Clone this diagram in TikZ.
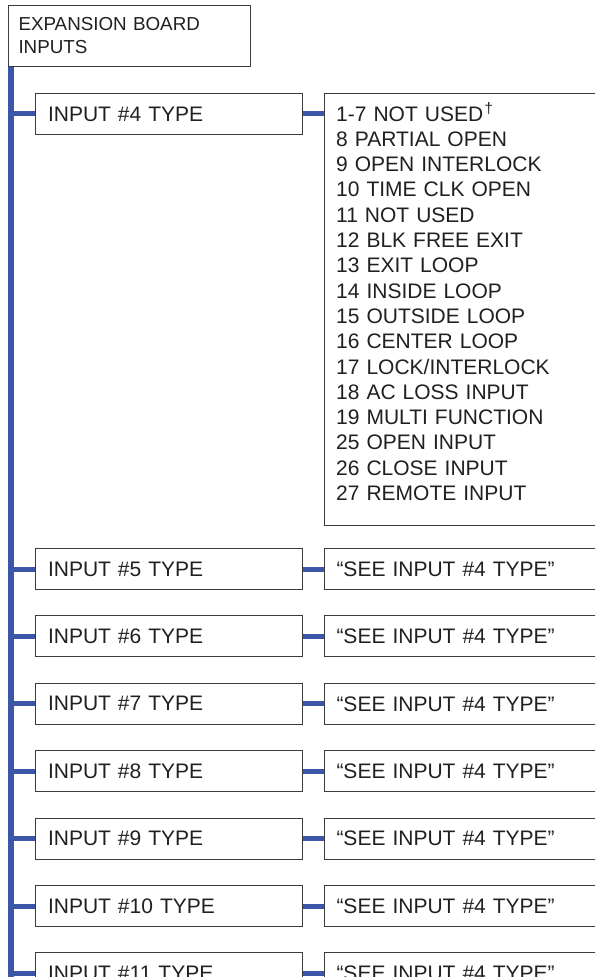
\documentclass[tikz,border=0pt]{standalone}
\usepackage{fontspec}
\setmainfont{Liberation Sans}
\usetikzlibrary{backgrounds}
\definecolor{busblue}{RGB}{59,86,166}
\definecolor{boxgray}{RGB}{60,60,60}
\definecolor{inkgray}{RGB}{35,31,32}
\begin{document}
\begin{tikzpicture}[x=1pt,y=-1pt,
  box/.style={draw=boxgray, line width=1pt, fill=white, inner ysep=0pt, anchor=north west, text=inkgray, align=left},
  inbox/.style={box, minimum width=267pt, minimum height=41pt, text width=242pt, inner xsep=12.5pt, font=\fontsize{21}{25}\selectfont},
  seebox/.style={box, minimum width=290pt, minimum height=41pt, text width=266pt, inner xsep=12pt, font=\fontsize{21}{25}\selectfont},
  listbox/.style={box, minimum width=290pt, minimum height=432pt, inner sep=0pt},
  listtext/.style={anchor=base west, inner sep=0pt, text=inkgray, align=left, text width=260pt, font=\fontsize{21}{25.3}\selectfont},
  topbox/.style={box, minimum width=242pt, minimum height=61pt, text width=222pt, inner xsep=10pt, font=\fontsize{18.8}{23}\selectfont},
  bus/.style={draw=busblue, line width=5.5pt},
  branch/.style={draw=busblue, line width=5pt}]
\useasboundingbox (0,0) rectangle (595,977);
\clip (0,0) rectangle (595,977);

\node[topbox] (top) at (8,5) {EXPANSION BOARD\\INPUTS};

\node[inbox] (in4) at (35,93) {INPUT \#4 TYPE};
\node[listbox] (r4) at (324,93) {};
\node[listtext] (r4text) at ([xshift=12pt,yshift=-28pt]r4.north west)
 {1-7 NOT USED\hspace{1.5pt}\raisebox{8pt}{\fontsize{15}{15}\selectfont †}\\
  8 PARTIAL OPEN\\
  9 OPEN INTERLOCK\\
  10 TIME CLK OPEN\\
  11 NOT USED\\
  12 BLK FREE EXIT\\
  13 EXIT LOOP\\
  14 INSIDE LOOP\\
  15 OUTSIDE LOOP\\
  16 CENTER LOOP\\
  17 LOCK/INTERLOCK\\
  18 AC LOSS INPUT\\
  19 MULTI FUNCTION\\
  25 OPEN INPUT\\
  26 CLOSE INPUT\\
  27 REMOTE INPUT};

\node[inbox] (in5) at (35,548) {INPUT \#5 TYPE};
\node[seebox] (r5) at (324,548) {“SEE INPUT \#4 TYPE”};
\node[inbox] (in6) at (35,615.4) {INPUT \#6 TYPE};
\node[seebox] (r6) at (324,615.4) {“SEE INPUT \#4 TYPE”};
\node[inbox] (in7) at (35,682.8) {INPUT \#7 TYPE};
\node[seebox] (r7) at (324,682.8) {“SEE INPUT \#4 TYPE”};
\node[inbox] (in8) at (35,750.2) {INPUT \#8 TYPE};
\node[seebox] (r8) at (324,750.2) {“SEE INPUT \#4 TYPE”};
\node[inbox] (in9) at (35,817.6) {INPUT \#9 TYPE};
\node[seebox] (r9) at (324,817.6) {“SEE INPUT \#4 TYPE”};
\node[inbox] (in10) at (35,885) {INPUT \#10 TYPE};
\node[seebox] (r10) at (324,885) {“SEE INPUT \#4 TYPE”};
\node[inbox] (in11) at (35,952.4) {INPUT \#11 TYPE};
\node[seebox] (r11) at (324,952.4) {“SEE INPUT \#4 TYPE”};

\begin{scope}[on background layer]
  \coordinate (bustop) at ([xshift=2.75pt]top.south west);
  \coordinate (busbot) at ([yshift=-40pt]bustop |- in11.south);
  \draw[bus] (bustop) -- (busbot);
  \draw[branch] ([yshift=1pt]in4.west -| bustop) -- ([yshift=1pt]in4.west);
  \draw[branch] ([yshift=1pt]in4.east) -- ([yshift=1pt]in4.east -| r4.west);
  \foreach \i in {5,...,11} {
    \draw[branch] (in\i.west -| bustop) -- (in\i.west);
    \draw[branch] (in\i.east) -- (r\i.west);
  }
\end{scope}
\end{tikzpicture}
\end{document}
